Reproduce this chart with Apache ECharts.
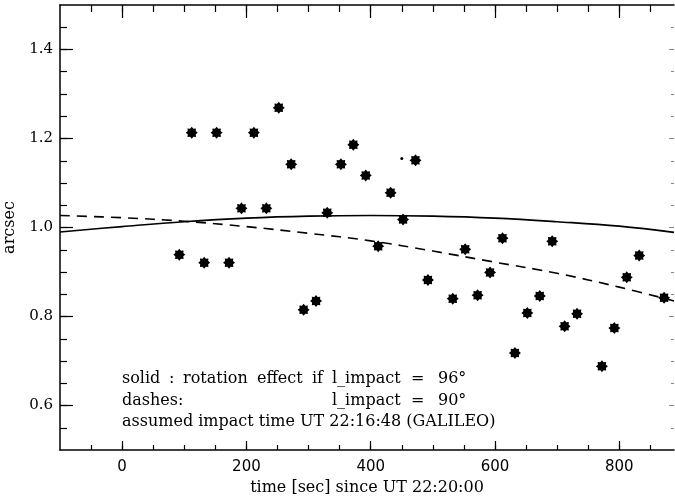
<!DOCTYPE html>
<html>
<head>
<meta charset="utf-8">
<script src="https://cdn.jsdelivr.net/npm/echarts@6/dist/echarts.min.js"></script>
<style>
    html, body { margin: 0; padding: 0; background: #fff; }
    #main { width: 675px; height: 498px; }
</style>
</head>
<body>
<div id="main"></div>
<script>
// measured points (sec since UT 22:20:00, arcsec)
var times = [92, 112, 132, 152, 172, 192, 212, 232, 252, 272, 292, 312, 330, 352, 372, 392, 412, 432, 452, 472,
    492, 532, 552, 572, 592, 612, 632, 652, 672, 692, 712, 732, 772, 792, 812, 832, 872];
var arcsec = [0.939, 1.213, 0.921, 1.213, 0.921, 1.043, 1.213, 1.043, 1.269, 1.142, 0.815, 0.835, 1.033, 1.142, 1.186, 1.117, 0.958, 1.078, 1.018, 1.151,
    0.882, 0.840, 0.951, 0.848, 0.899, 0.976, 0.718, 0.808, 0.846, 0.969, 0.778, 0.806, 0.688, 0.774, 0.888, 0.937, 0.842];

// stray speck on the scan
var speckTime = [450];
var speckArcsec = [1.155];

// model curves
var curveTime = [-100, 0, 100, 200, 300, 400, 500, 600, 700, 800, 888];
var solid96 = [0.990, 1.002, 1.013, 1.021, 1.0255, 1.027, 1.0255, 1.021, 1.013, 1.003, 0.989];
var dashed90 = [1.027, 1.022, 1.014, 1.002, 0.987, 0.970, 0.947, 0.922, 0.897, 0.866, 0.835];

// ticks
var xMajor = [0, 200, 400, 600, 800];
var yMajor = [0.6, 0.8, 1.0, 1.2, 1.4];
var xMinor = [];
for (var t = -50; t <= 850; t += 50) xMinor.push(t);
var yMinor = [];
for (var k = 11; k <= 29; k++) yMinor.push(k / 20);

var starPath = 'path://M2 1L1.665 1.276L1.707 1.707L1.276 1.665L1 2L0.724 1.665L0.293 1.707L0.335 1.276L0 1L0.335 0.724L0.293 0.293L0.724 0.335L1 0L1.276 0.335L1.707 0.293L1.665 0.724Z';

function zip(a, b) {
    return a.map(function (v, i) { return [v, b[i]]; });
}

function tickAxis(pos, ticks, len, extra) {
    var ax = {
        type: 'value',
        position: pos,
        axisLine: { show: false, onZero: false },
        axisTick: { show: true, inside: true, length: len, customValues: ticks, lineStyle: { color: '#000', width: 1.2 } },
        axisLabel: { show: false },
        splitLine: { show: false }
    };
    for (var p in extra) ax[p] = extra[p];
    return ax;
}

var serif = '"DejaVu Serif", serif';
var black = '#000';
var xr = { min: -100, max: 888 };
var yr = { min: 0.5, max: 1.5 };
var faint = { show: true, inside: true, lineStyle: { color: '#888', width: 1 } };

var xAxes = [
    tickAxis('bottom', xMajor, 9, {
        min: xr.min, max: xr.max,
        axisLine: { show: true, onZero: false, lineStyle: { color: black, width: 1.5 } },
        axisLabel: { show: true, customValues: xMajor, margin: 10, color: black, fontFamily: '"DejaVu Sans", sans-serif', fontSize: 15 },
        name: 'time [sec] since UT 22:20:00',
        nameLocation: 'middle',
        nameGap: 30,
        nameTextStyle: { color: black, fontFamily: serif, fontSize: 16 }
    }),
    tickAxis('bottom', xMinor, 5, { min: xr.min, max: xr.max }),
    tickAxis('top', xMajor, 13, {
        min: xr.min, max: xr.max,
        axisLine: { show: true, onZero: false, lineStyle: { color: black, width: 1.5 } }
    }),
    tickAxis('top', xMinor, 7, { min: xr.min, max: xr.max })
];

var yAxes = [
    tickAxis('left', yMajor, 13, {
        min: yr.min, max: yr.max,
        axisLine: { show: true, onZero: false, lineStyle: { color: black, width: 1.5 } },
        axisLabel: {
            show: true, customValues: yMajor, margin: 7, color: black, fontFamily: serif, fontSize: 15,
            formatter: function (v) { return v.toFixed(1); }
        },
        name: 'arcsec',
        nameLocation: 'middle',
        nameGap: 37,
        nameTextStyle: { color: black, fontFamily: serif, fontSize: 16 }
    }),
    tickAxis('left', yMinor, 7, { min: yr.min, max: yr.max }),
    // right frame is barely visible on the scan
    tickAxis('right', yMajor, 5, { min: yr.min, max: yr.max, axisTick: Object.assign({ length: 5, customValues: yMajor }, faint) }),
    tickAxis('right', yMinor, 3, { min: yr.min, max: yr.max, axisTick: Object.assign({ length: 3, customValues: yMinor }, faint) })
];

function word(text, x, y) {
    return {
        type: 'text',
        style: { text: text, x: x, y: y, fill: black, font: '16px "DejaVu Serif"', verticalAlign: 'middle' },
        silent: true
    };
}

var notes = [
    word('solid', 122, 379), word(':', 169, 379), word('rotation', 183, 379),
    word('effect', 257, 379), word('if', 312, 379), word('l_impact', 332, 379),
    word('=', 411, 379), word('96°', 438, 379),
    word('dashes:', 122, 401), word('l_impact', 332, 401),
    word('=', 411, 401), word('90°', 438, 401),
    word('assumed impact time UT 22:16:48 (GALILEO)', 122, 422)
];

var myChart = echarts.init(document.getElementById('main'));
myChart.setOption({
    animation: false,
    backgroundColor: '#fff',
    grid: { left: 60, right: 1, top: 5, bottom: 48, containLabel: false, outerBoundsMode: 'none' },
    xAxis: xAxes,
    yAxis: yAxes,
    graphic: notes,
    series: [
        {
            name: 'l_impact = 96°',
            type: 'line',
            data: zip(curveTime, solid96),
            smooth: 0.4,
            showSymbol: false,
            lineStyle: { color: black, width: 1.6 }
        },
        {
            name: 'l_impact = 90°',
            type: 'line',
            data: zip(curveTime, dashed90),
            smooth: 0.4,
            showSymbol: false,
            lineStyle: { color: black, width: 1.6, type: [10, 7] }
        },
        {
            name: 'measured',
            type: 'scatter',
            data: zip(times, arcsec),
            symbol: starPath,
            symbolSize: 12,
            itemStyle: { color: black, opacity: 1 }
        },
        {
            name: 'speck',
            type: 'scatter',
            data: zip(speckTime, speckArcsec),
            symbol: 'circle',
            symbolSize: 3,
            itemStyle: { color: black, opacity: 1 }
        }
    ]
});
</script>
</body>
</html>
